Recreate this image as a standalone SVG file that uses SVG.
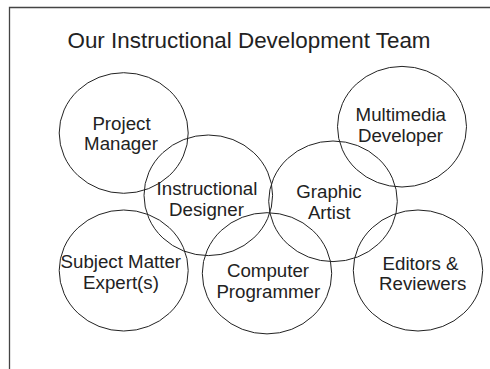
<svg xmlns="http://www.w3.org/2000/svg" width="490" height="369" viewBox="0 0 490 369">
<style>
.c{fill:none;stroke:#222;stroke-width:1}
.t{font-family:"Liberation Sans",Arial,sans-serif;font-size:18.7px;fill:#222;text-anchor:middle}
.h{font-family:"Liberation Sans",Arial,sans-serif;font-size:22.4px;fill:#222;text-anchor:middle}
</style>
<rect width="490" height="369" fill="#fff"/>
<path d="M9.5 369V7.5H490" fill="none" stroke="#444" stroke-width="1.3"/>
<text class="h" x="249" y="48">Our Instructional Development Team</text>
<g id="connectors"></g>
<g id="project-manager"><ellipse class="c" cx="123.7" cy="133" rx="64.5" ry="60.3"/><text class="t" x="121.5" y="129.5">Project</text><text class="t" x="121" y="150">Manager</text></g>
<g id="instructional-designer"><ellipse class="c" cx="208.3" cy="195.3" rx="64.3" ry="60.3"/><text class="t" x="207" y="195">Instructional</text><text class="t" x="206.5" y="215.7">Designer</text></g>
<g id="multimedia-developer"><ellipse class="c" cx="402" cy="126.7" rx="64.5" ry="60.3"/><text class="t" x="400.8" y="121">Multimedia</text><text class="t" x="400.5" y="141.5">Developer</text></g>
<g id="graphic-artist"><ellipse class="c" cx="333" cy="201.3" rx="64.3" ry="60.3"/><text class="t" x="329" y="198.3">Graphic</text><text class="t" x="329.2" y="219">Artist</text></g>
<g id="subject-matter-experts"><ellipse class="c" cx="123.7" cy="270.5" rx="64.5" ry="60.5"/><text class="t" x="120.8" y="268.3">Subject Matter</text><text class="t" x="121" y="288.5">Expert(s)</text></g>
<g id="computer-programmer"><ellipse class="c" cx="267" cy="273.3" rx="64.7" ry="60.6"/><text class="t" x="268" y="277.3">Computer</text><text class="t" x="268.3" y="297.5">Programmer</text></g>
<g id="editors-reviewers"><ellipse class="c" cx="418" cy="270.5" rx="64.7" ry="60.5"/><text class="t" x="420.5" y="270">Editors &amp;</text><text class="t" x="422.7" y="290">Reviewers</text></g>
</svg>
